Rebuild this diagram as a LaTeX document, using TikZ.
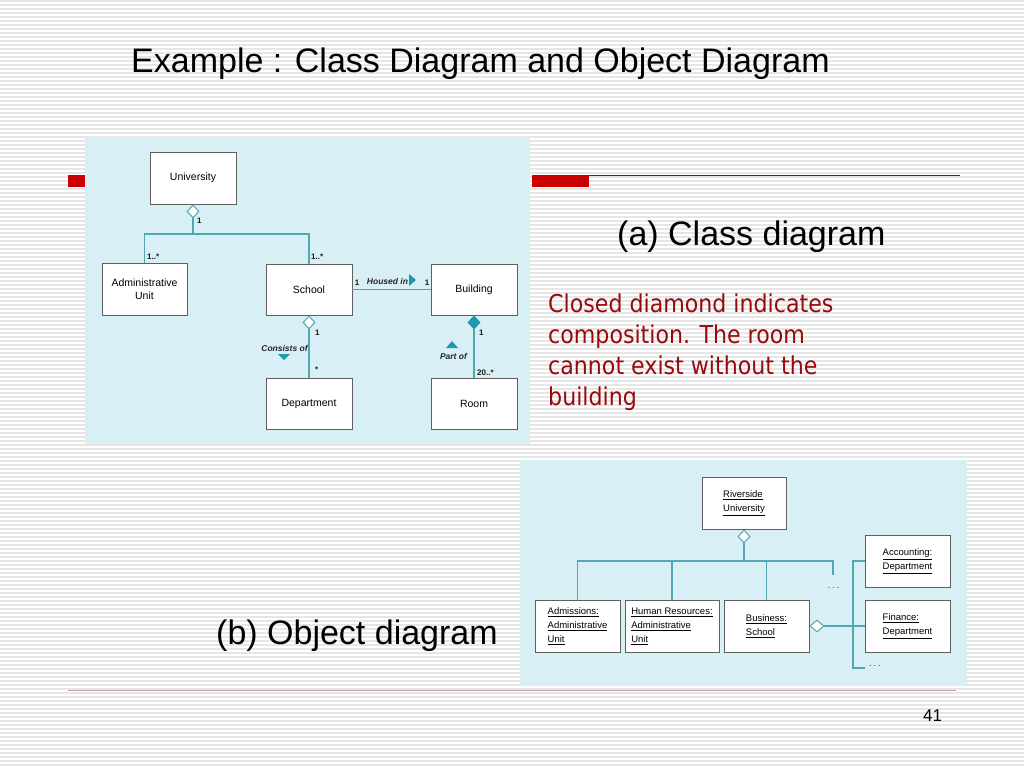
\documentclass[tikz,border=0pt]{standalone}
\usepackage{fontspec}
\setmainfont{Liberation Sans}
\newfontfamily\notefont{DejaVu Sans Condensed}
\usetikzlibrary{shapes.geometric}
\definecolor{panel}{RGB}{216,239,245}
\definecolor{stripe}{RGB}{230,230,230}
\definecolor{conncol}{RGB}{84,166,180}
\definecolor{boxcol}{RGB}{95,95,95}
\definecolor{tealfill}{RGB}{30,154,176}
\definecolor{slidered}{RGB}{204,0,0}
\definecolor{notered}{RGB}{150,10,10}
\definecolor{footline}{RGB}{196,160,160}
\tikzset{
  cbox/.style={draw=boxcol, fill=white, line width=0.9pt, inner sep=0pt,
    font=\fontsize{10.5}{13}\selectfont, align=center, text=black},
  obox/.style={draw=boxcol, fill=white, line width=0.9pt, inner sep=0pt,
    font=\fontsize{9.5}{14}\selectfont, align=left, text=black},
  conn/.style={draw=conncol, line width=1.1pt},
  odiam/.style={diamond, draw=conncol, fill=white, line width=1pt, inner sep=0pt,
    minimum width=12pt, minimum height=13pt},
  fdiam/.style={diamond, draw=tealfill, fill=tealfill, line width=1pt, inner sep=0pt,
    minimum width=12pt, minimum height=13pt},
  mult/.style={font=\bfseries\fontsize{8}{9}\selectfont, inner sep=0pt, text=black!90},
  rolelab/.style={font=\itshape\bfseries\fontsize{8.5}{9}\selectfont, inner sep=0pt, text=black!85},
  bigtext/.style={font=\fontsize{34}{40}\selectfont, inner sep=0pt, anchor=base west},
  notetext/.style={font=\notefont\fontsize{24.6}{31}\selectfont, text=notered, inner sep=0pt, anchor=base west},
  dots/.style={font=\fontsize{10}{10}\selectfont, inner sep=0pt, text=black!70}
}
\begin{document}
\begin{tikzpicture}[x=1pt,y=-1pt]
\useasboundingbox (0,0) rectangle (1024,768);
% striped background
\fill[white] (0,0) rectangle (1024,768);
\foreach \yy in {1,5,...,767} {
  \draw[stripe, line width=1.6pt] (0,\yy) -- (1024,\yy);
}
% red header bars
\fill[slidered] (68,175) rectangle (86,187);
\fill[slidered] (532,175) rectangle (589,187);
\draw[notered, line width=1.2pt] (589,175.6) -- (960,175.6);
% footer line
\draw[footline, line width=1pt] (68,690) -- (956,690);
\node[font=\fontsize{17}{20}\selectfont, inner sep=0pt, anchor=base west] (pnum) at (923,721) {41};

% title and captions
\node[bigtext] (title) at (131,72) {Example : Class Diagram and Object Diagram};
\node[bigtext] (capa) at (617,245) {(a) Class diagram};
\node[bigtext] (capb) at (216,644) {(b) Object diagram};
\node[notetext] (n1) at (548,312) {Closed diamond indicates};
\node[notetext] (n2) at (548,343) {composition. The room};
\node[notetext] (n3) at (548,374) {cannot exist without the};
\node[notetext] (n4) at (548,405) {building};

% ===== class diagram panel =====
\fill[panel] (85,137) rectangle (530,444);
\node[cbox, minimum width=86pt, minimum height=52pt] (univ) at (193,178) {University};
\node[cbox, minimum width=85pt, minimum height=52pt] (admin) at (144.5,289) {Administrative\\Unit};
\node[cbox, minimum width=86pt, minimum height=51pt] (school) at (309,289.5) {School};
\node[cbox, minimum width=86pt, minimum height=51pt] (building) at (474,289.5) {Building};
\node[cbox, minimum width=86pt, minimum height=51pt] (dept) at (309,403.5) {Department};
\node[cbox, minimum width=86pt, minimum height=51pt] (room) at (474,403.5) {Room};

\node[odiam, anchor=north] (ud) at (univ.south) {};
\coordinate (uj) at (193,234);
\draw[conn] (ud.south) -- (uj);
\draw[conn] (uj) -| (admin.north);
\draw[conn] (uj) -| (school.north);
\node[mult, anchor=west] (m1) at (197,221) {1};
\node[mult, anchor=west] (m2) at (147,257) {1..*};
\node[mult, anchor=west] (m3) at (311,257) {1..*};

\draw[conn] (school.east) -- (building.west);
\node[mult] (m4) at (357,283) {1};
\node[mult] (m5) at (427,283) {1};
\node[rolelab] (housed) at (387.5,281) {Housed in};
\fill[tealfill] (409,274) -- (416,280) -- (409,286) -- cycle;

\node[odiam, anchor=north] (sd) at (school.south) {};
\draw[conn] (sd.south) -- (dept.north);
\node[mult, anchor=west] (m6) at (315,333) {1};
\node[mult, anchor=west] (m7) at (315,370) {*};
\node[rolelab] (consists) at (284.5,348) {Consists of};
\fill[tealfill] (278,354) -- (290,354) -- (284,360) -- cycle;

\node[fdiam, anchor=north] (bd) at (building.south) {};
\draw[conn] (bd.south) -- (room.north);
\node[mult, anchor=west] (m8) at (479,333) {1};
\node[mult, anchor=west] (m9) at (477,373) {20..*};
\node[rolelab] (partof) at (453.5,356) {Part of};
\fill[tealfill] (446,348) -- (458,348) -- (452,341) -- cycle;

% ===== object diagram panel =====
\fill[panel] (520,460) rectangle (967,686);
\node[obox, minimum width=84pt, minimum height=52pt] (riv) at (744,503) {\underline{Riverside}\\\underline{University}};
\node[obox, minimum width=85pt, minimum height=52pt] (adm) at (577.5,626) {\underline{Admissions:}\\\underline{Administrative}\\\underline{Unit}};
\node[obox, minimum width=94pt, minimum height=52pt] (hr) at (672,626) {\underline{Human Resources:}\\\underline{Administrative}\\\underline{Unit}};
\node[obox, minimum width=85pt, minimum height=52pt] (bus) at (766.5,626) {\underline{Business:}\\\underline{School}};
\node[obox, minimum width=85pt, minimum height=52pt] (acc) at (907.5,561) {\underline{Accounting:}\\\underline{Department}};
\node[obox, minimum width=85pt, minimum height=52pt] (fin) at (907.5,626) {\underline{Finance:}\\\underline{Department}};

\node[odiam, anchor=north] (rd) at (riv.south) {};
\coordinate (rj) at (744,561);
\coordinate (rend) at (833,575);
\draw[conn] (rd.south) -- (rj);
\draw[conn] (rj) -| (adm.north);
\draw[conn] (rj) -| (hr.north);
\draw[conn] (rj) -| (bus.north);
\draw[conn] (rj) -| (rend);
\node[dots] (dots1) at (833.5,588) {.\,.\,.};

\node[odiam, anchor=west, minimum width=14pt, minimum height=12pt] (bd2) at (bus.east) {};
\coordinate (btop) at (853,561);
\coordinate (bbot) at (853,668);
\coordinate (bbotend) at (865,668);
\draw[conn] (bd2.east) -- (fin.west);
\draw[conn] (acc.west) -- (btop) -- (bbot) -- (bbotend);
\node[dots, anchor=west] (dots2) at (869,666) {.\,.\,.};
\end{tikzpicture}
\end{document}
